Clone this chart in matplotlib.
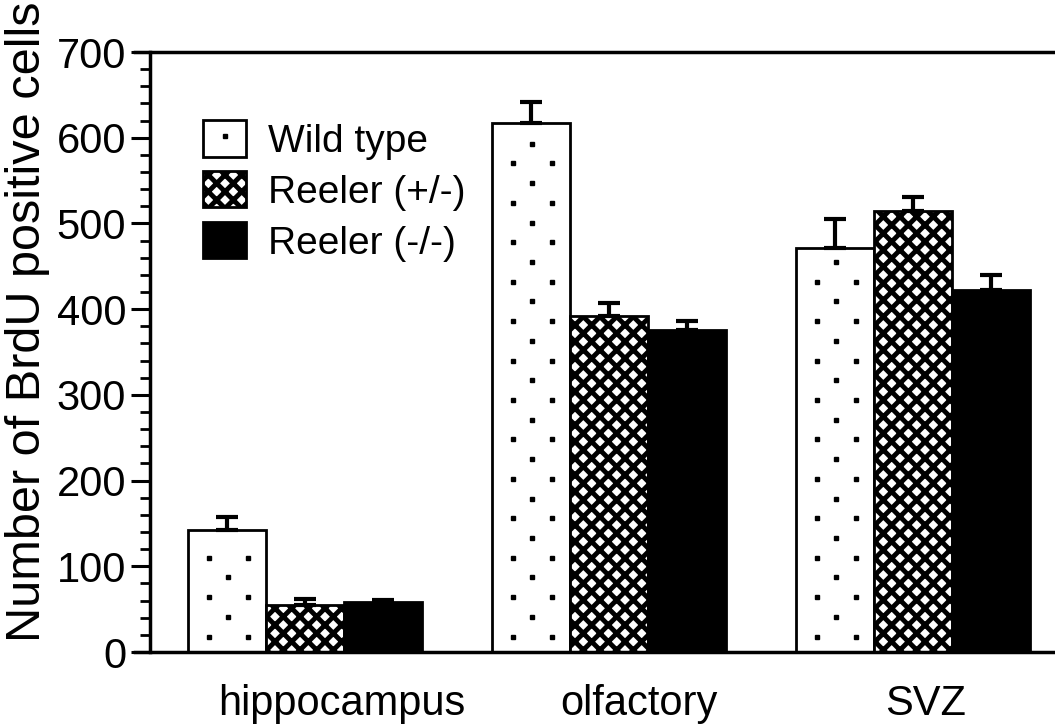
import matplotlib
matplotlib.use("Agg")
import matplotlib.pyplot as plt
import numpy as np
from matplotlib.ticker import MultipleLocator
from matplotlib.lines import Line2D

plt.rcParams['font.family'] = ['Liberation Sans', 'DejaVu Sans']
plt.rcParams['hatch.linewidth'] = 3.5

categories = ["hippocampus", "olfactory", "SVZ"]
series_names = ["Wild type", "Reeler (+/-)", "Reeler (-/-)"]
wild_type = [142, 617, 471]
reeler_het = [55, 392, 515]
reeler_hom = [58, 376, 422]
wild_type_err = [16, 25, 34]
reeler_het_err = [7, 15, 16]
reeler_hom_err = [3, 10, 18]
yticks = [0, 100, 200, 300, 400, 500, 600, 700]

values = [wild_type, reeler_het, reeler_hom]
errors = [wild_type_err, reeler_het_err, reeler_hom_err]
styles = [dict(facecolor='white', hatch=None),
          dict(facecolor='white', hatch='xx'),
          dict(facecolor='black', hatch=None)]

W, H = 1055, 728
fig = plt.figure(figsize=(W / 100, H / 100), dpi=100)
ax = fig.add_axes([135 / W, (H - 652) / H, 1 - 135 / W, 600 / H])

bw = 0.257
x = np.arange(len(categories))
handles = []
for i, (vals, errs, st) in enumerate(zip(values, errors, styles)):
    pos = x + (i - 1) * bw
    bars = ax.bar(pos, vals, width=bw, edgecolor='black', linewidth=2.0,
                  zorder=2, **st)
    ax.errorbar(pos, vals, yerr=[np.zeros(len(errs)), errs], fmt='none',
                ecolor='black', elinewidth=3, capsize=8, capthick=3, zorder=3)
    if i == 0:
        # sparse staggered dot pattern inside the white bars
        step = 23.0
        for b in bars:
            x0, w, h = b.get_x(), b.get_width(), b.get_height()
            ys = np.arange(18, h - 12, step)
            for k, yy in enumerate(ys):
                fr = [0.27, 0.77] if k % 2 == 0 else [0.52]
                ax.plot([x0 + f * w for f in fr], [yy] * len(fr), ls='',
                        marker='s', ms=3.2, color='black', zorder=2.5)
        dot = Line2D([], [], ls='', marker='s', ms=3.2, color='black')
        handles.append((bars[0], dot))
    else:
        handles.append(bars[0])

ax.set_xlim(-0.559, 2.467)
ax.set_ylim(0, 700)
ax.set_yticks(yticks)
ax.yaxis.set_minor_locator(MultipleLocator(20))
ax.tick_params(axis='y', which='major', length=14, width=2.2, labelsize=30, pad=3)
ax.tick_params(axis='y', which='minor', length=7, width=2.0)

label_shift = [0.12, 0.1, 0.04]
ax.set_xticks(x + np.array(label_shift))
ax.set_xticklabels(categories, fontsize=30)
ax.tick_params(axis='x', length=0, pad=23)

for s in ['top', 'bottom', 'left']:
    ax.spines[s].set_linewidth(2.5)
ax.spines['right'].set_visible(False)
ax.spines['left'].set_position(('data', -0.510))

ax.set_ylabel("Number of BrdU positive cells", fontsize=35)
ax.yaxis.set_label_coords(-0.092, 0.55)

leg = ax.legend(handles, series_names, loc='upper left',
                bbox_to_anchor=(184 / W, 1 - 101 / H),
                bbox_transform=fig.transFigure, frameon=False, fontsize=28,
                handlelength=1.1, handleheight=1.05, handletextpad=0.55,
                labelspacing=0.3, borderpad=0)

fig.savefig("out.png", dpi=100)
